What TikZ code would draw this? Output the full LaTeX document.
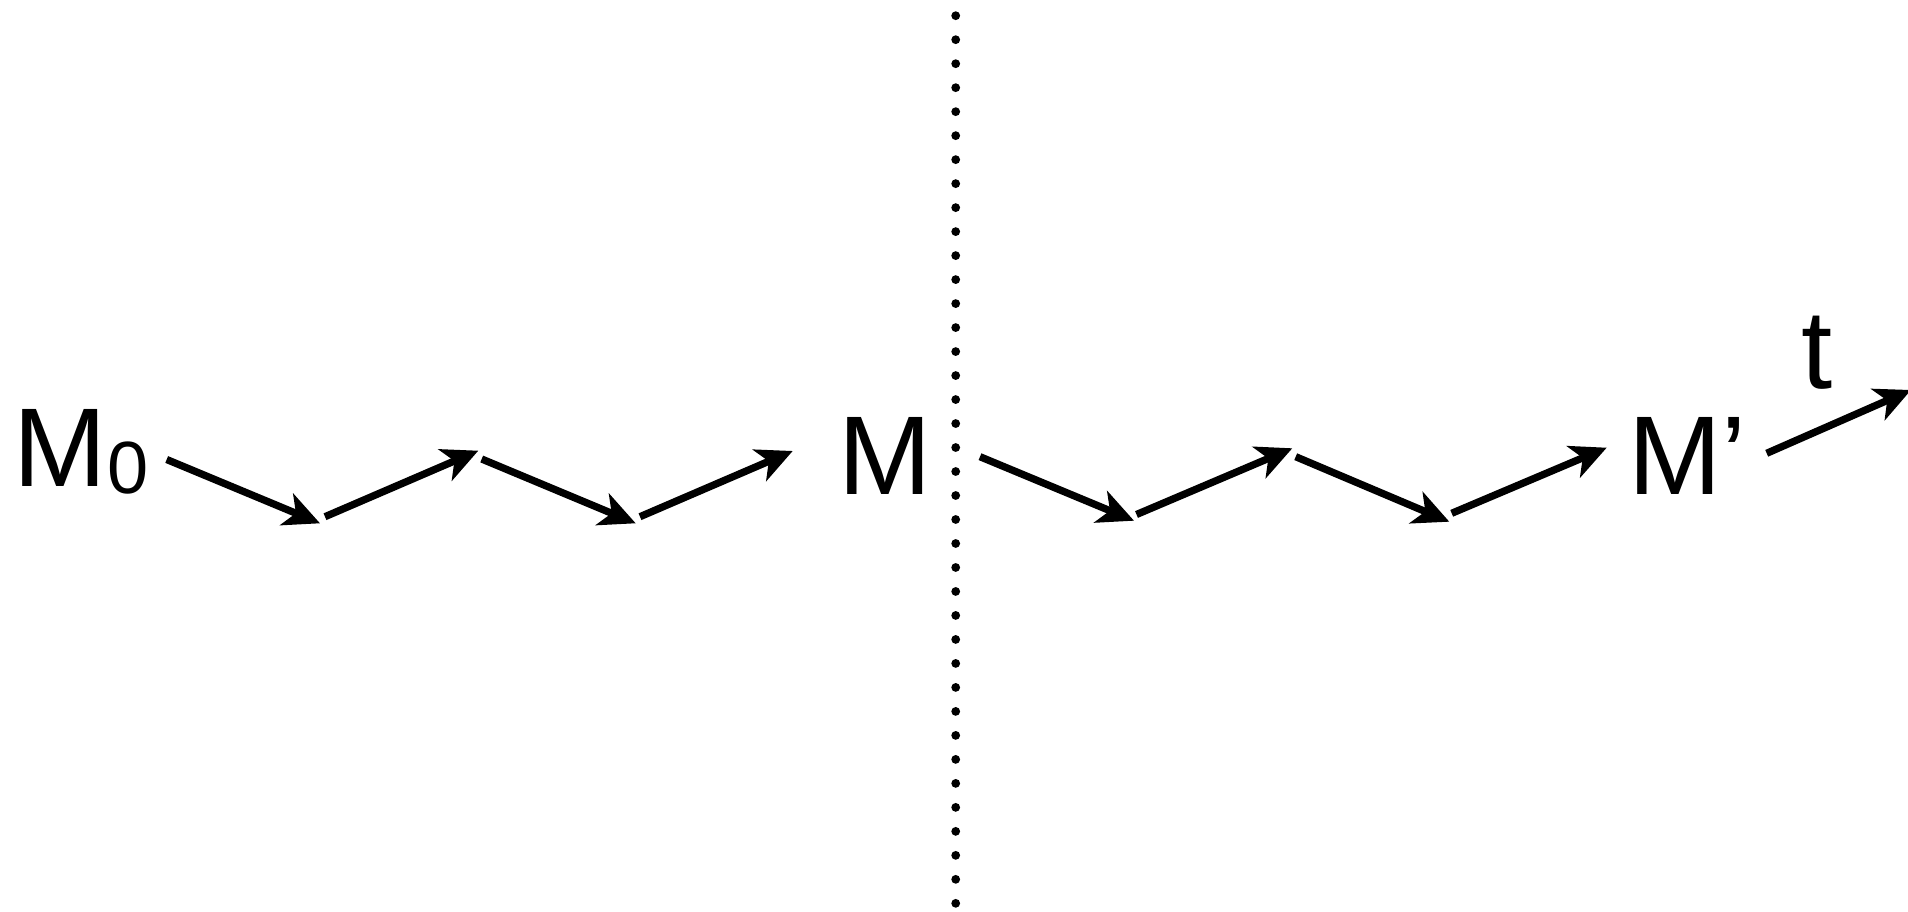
\documentclass[tikz,border=0pt]{standalone}
\usepackage{fontspec}
\setmainfont{Liberation Sans}
\usetikzlibrary{arrows.meta}
\begin{document}
\begin{tikzpicture}[x=1pt,y=-1pt,
  lbl/.style={inner sep=0pt,font=\fontsize{112}{120}\selectfont},
  conn/.style={line width=7.3pt,-{Stealth[length=36pt,width=34pt,inset=10pt]}},
  sep/.style={line width=8.8pt,line cap=round,dash pattern=on 0pt off 23.99pt}]
\useasboundingbox (0,0) rectangle (1908,912);
\clip (0,0) rectangle (1908,912);
% labels
\node[lbl,anchor=base west] (M0) at (13.4,486) {M\kern1pt\raisebox{-7.3pt}{\fontsize{74}{80}\selectfont 0}};
\node[lbl,anchor=base] (M) at (885,494) {M};
\node[lbl,anchor=base west] (Mp) at (1628.4,494) {M’};
\node[lbl,anchor=base west] (t) at (1801,388) {t};
% separator
\coordinate (s1) at (955.7,15.7);
\coordinate (s2) at (955.7,903.4);
\draw[sep] (s1) -- (s2);
% arrow end points
\coordinate (a1s) at (166.7,459.5);  \coordinate (a1e) at (320,523.3);
\coordinate (a2s) at (325,516.7);    \coordinate (a2e) at (478.3,450.7);
\coordinate (a3s) at (481.7,459);    \coordinate (a3e) at (635.7,523.3);
\coordinate (a4s) at (640,516.7);    \coordinate (a4e) at (792.7,451);
\coordinate (a5s) at (980,456.7);    \coordinate (a5e) at (1134,520.7);
\coordinate (a6s) at (1136.5,514.5); \coordinate (a6e) at (1292.3,448.3);
\coordinate (a7s) at (1295.7,456.7); \coordinate (a7e) at (1449.3,521.7);
\coordinate (a8s) at (1451.7,513.3); \coordinate (a8e) at (1606.7,447.7);
\coordinate (a9s) at (1766.7,453.3); \coordinate (a9e) at (1911,390);
\foreach \i in {1,...,9} \draw[conn] (a\i s) -- (a\i e);
\end{tikzpicture}
\end{document}
